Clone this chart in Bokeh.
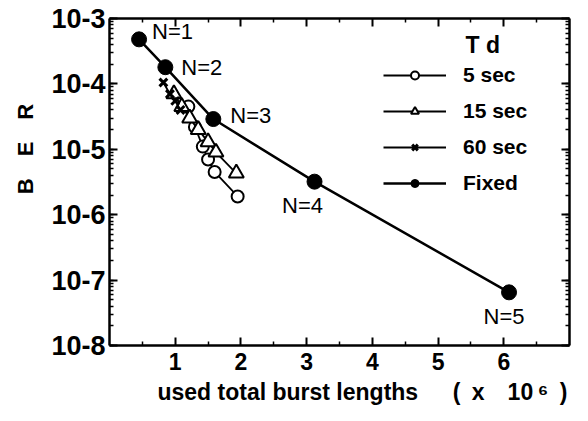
import math
from bokeh.plotting import figure
from bokeh.models import (Range1d, FixedTicker, LogTicker, LinearAxis, LogAxis, Legend, LegendItem,
                          CustomJSTickFormatter, Label, ColumnDataSource)
from bokeh.core.properties import value
from bokeh.embed import file_html
from bokeh.resources import INLINE

# data
fixed_x = [0.45, 0.85, 1.58, 3.12, 6.08]
fixed_y = [4.8e-4, 1.8e-4, 2.9e-5, 3.2e-6, 6.5e-8]
fixed_labels = ["N=1", "N=2", "N=3", "N=4", "N=5"]

sec5_x = [1.2, 1.3, 1.42, 1.5, 1.6, 1.95]
sec5_y = [4.5e-5, 2.2e-5, 1.1e-5, 7e-6, 4.5e-6, 1.9e-6]

sec15_x = [0.98, 1.1, 1.22, 1.35, 1.5, 1.62, 1.93]
sec15_y = [7e-5, 4.5e-5, 3e-5, 2e-5, 1.3e-5, 9e-6, 4.3e-6]

sec60_x = [0.82, 0.92, 1.0, 1.08]
sec60_y = [1.05e-4, 7e-5, 5.5e-5, 4e-5]

x_ticks = [1, 2, 3, 4, 5, 6]
x_minor = [0.5, 1.5, 2.5, 3.5, 4.5, 5.5, 6.5]

X_MIN, X_MAX = 0, 7
Y_MIN, Y_MAX = 1e-8, 1e-3

FONT = "Liberation Sans"
SP = "\u2003"  # em space (not collapsed in svg)
EN = "\u2002"

p = figure(width=581, height=413, x_axis_type="linear", y_axis_type="log",
           x_range=Range1d(X_MIN, X_MAX), y_range=Range1d(Y_MIN, Y_MAX),
           output_backend="svg", toolbar_location=None,
           min_border_left=109, min_border_right=12, min_border_top=18, min_border_bottom=68)
p.grid.visible = False
p.outline_line_color = None

def style_axis(ax, labels=True):
    ax.axis_line_width = 2.5
    ax.axis_line_color = "black"
    ax.major_tick_in = 8
    ax.major_tick_out = 0
    ax.minor_tick_in = 4
    ax.minor_tick_out = 0
    ax.major_tick_line_width = 2
    ax.minor_tick_line_width = 1.5
    ax.major_tick_line_color = "black"
    ax.minor_tick_line_color = "black"
    if not labels:
        ax.major_label_text_font_size = "1px"
        ax.major_label_text_alpha = 0
        ax.major_label_standoff = 0

xa = p.xaxis[0]
xa.ticker = FixedTicker(ticks=x_ticks, minor_ticks=x_minor)
style_axis(xa)
xa.major_label_text_font = FONT
xa.major_label_text_font_style = "bold"
xa.major_label_text_font_size = "23px"
xa.major_label_text_color = "black"
xa.major_label_standoff = 7
xa.axis_label = SP * 2 + "used total burst lengths" + SP + EN + "(" + EN + "x" + EN + EN + "10" + "\u2009\u2076" + EN + ")"
xa.axis_label_text_font = FONT
xa.axis_label_text_font_style = "bold"
xa.axis_label_text_font_size = "23px"
xa.axis_label_text_color = "black"
xa.axis_label_standoff = 6

ya = p.yaxis[0]
ya.ticker = LogTicker(num_minor_ticks=10)
style_axis(ya)
ya.formatter = CustomJSTickFormatter(code="return '10-' + Math.round(-Math.log10(tick));")
ya.major_label_text_font = FONT
ya.major_label_text_font_style = "bold"
ya.major_label_text_font_size = "27px"
ya.major_label_text_color = "black"
ya.major_label_standoff = 4
ya.axis_label = SP * 3 + "B" + EN + EN + "E" + EN + EN + "R"
ya.axis_label_text_font = FONT
ya.axis_label_text_font_style = "bold"
ya.axis_label_text_font_size = "22px"
ya.axis_label_text_color = "black"
ya.axis_label_standoff = 10

top = LinearAxis(ticker=FixedTicker(ticks=x_ticks, minor_ticks=x_minor))
style_axis(top, labels=False)
p.add_layout(top, "above")
right = LogAxis(ticker=LogTicker(num_minor_ticks=10))
style_axis(right, labels=False)
p.add_layout(right, "right")

# Series
r5l = p.line(sec5_x, sec5_y, line_color="black", line_width=1.8)
r5m = p.scatter(sec5_x, sec5_y, marker="circle", size=12, fill_color="white", line_color="black", line_width=2)
r15l = p.line(sec15_x, sec15_y, line_color="black", line_width=1.8)
r15m = p.scatter(sec15_x, sec15_y, marker="triangle", size=15, fill_color="white", line_color="black", line_width=2)
r60l = p.line(sec60_x, sec60_y, line_color="black", line_width=1.8)
r60m = p.scatter(sec60_x, sec60_y, marker="x", size=11, line_color="black", line_width=3)
rfl = p.line(fixed_x, fixed_y, line_color="black", line_width=2.5)
rfm = p.scatter(fixed_x, fixed_y, marker="circle", size=15, fill_color="black", line_color="black")

src = ColumnDataSource(dict(x=fixed_x, y=fixed_y, t=fixed_labels,
                            xo=[13, 16, 17, -12, -5], yo=[-8, 0, -4, 24, 24],
                            al=["left", "left", "left", "center", "center"]))
p.text(x="x", y="y", text="t", x_offset="xo", y_offset="yo", text_align="al",
       text_baseline="middle", text_font=value(FONT), text_font_size="22px",
       text_color="black", source=src)

legend = Legend(items=[
    LegendItem(label="5 sec", renderers=[r5l, r5m]),
    LegendItem(label="15 sec", renderers=[r15l, r15m]),
    LegendItem(label="60 sec", renderers=[r60l, r60m]),
    LegendItem(label="Fixed", renderers=[rfl, rfm]),
], location=(274, 150), glyph_width=63, glyph_height=20, label_height=20, spacing=12,
    padding=0, margin=0, label_standoff=17, border_line_color=None, background_fill_alpha=0,
    label_text_font=FONT, label_text_font_style="bold", label_text_font_size="21px",
    label_text_color="black")
p.add_layout(legend)

p.add_layout(Label(x=356, y=301, x_units="screen", y_units="screen", text="T d",
                   text_font=FONT, text_font_style="bold", text_font_size="23px",
                   text_color="black", text_baseline="middle"))

open("out.html", "w").write(file_html(p, INLINE))
